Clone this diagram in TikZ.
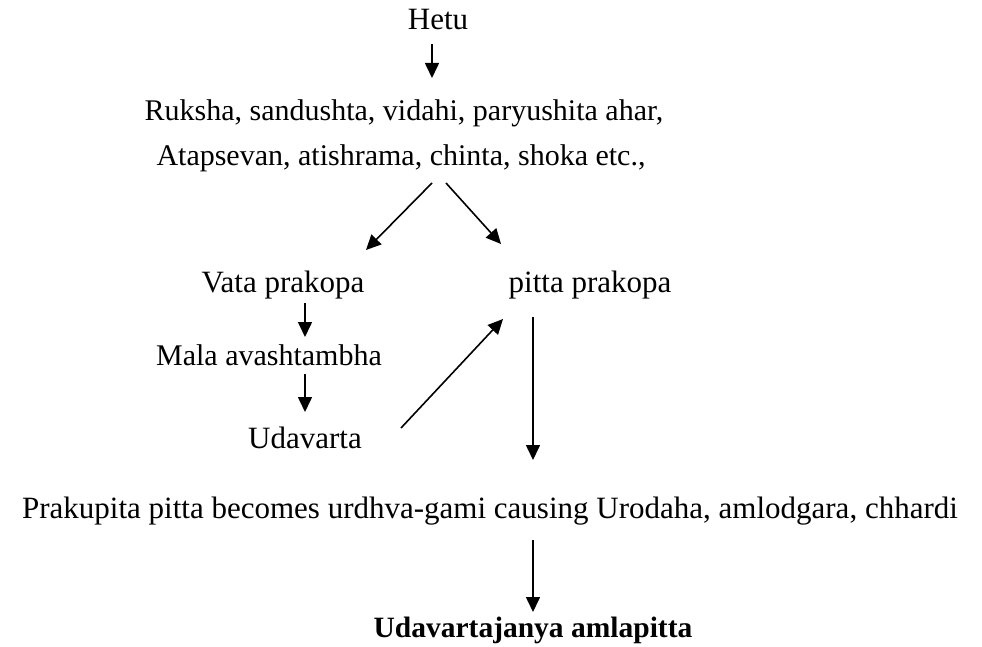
\documentclass[tikz,border=0pt]{standalone}
\usepackage{fontspec}
\setmainfont{Liberation Serif}
\usetikzlibrary{arrows.meta, positioning}

\begin{document}
\begin{tikzpicture}[
    x=1pt, y=-1pt,
    every node/.style={anchor=base, inner sep=0pt, font=\fontsize{31}{37}\selectfont},
    narrow/.style={font=\fontsize{30}{36}\selectfont},
    arr/.style={-{Triangle[length=15pt, width=14pt]}, line width=1.6pt}
]
    \useasboundingbox (0,0) rectangle (982,647);

    % Nodes
    \node (hetu) at (438,30) {Hetu};
    \node[narrow] (ruksha) at (404,121) {Ruksha, sandushta, vidahi, paryushita ahar,};
    \node[narrow] (atap) at (401,166) {Atapsevan, atishrama, chinta, shoka etc.,};
    \node (vata) at (283,292) {Vata prakopa};
    \node (pitta) at (590,292) {pitta prakopa};
    \node[narrow] (mala) at (269,365) {Mala avashtambha};
    \node (udav) at (305,448) {Udavarta};
    \node (praku) at (490,518) {Prakupita pitta becomes urdhva-gami causing Urodaha, amlodgara, chhardi};
    \node[font=\fontsize{29.5}{35}\selectfont\bfseries] (result) at (533,637) {Udavartajanya amlapitta};

    % Arrow ends
    \coordinate (hetuout) at (432,44);
    \coordinate (rukshain) at (432,78);
    \coordinate (atapl) at (432,183);
    \coordinate (vatain) at (366,250);
    \coordinate (atapr) at (446,183);
    \coordinate (pittain) at (501,244);
    \coordinate (vataout) at (305,303);
    \coordinate (malain) at (305,337);
    \coordinate (malaout) at (305,374);
    \coordinate (udavin) at (305,412);
    \coordinate (udavout) at (401,428);
    \coordinate (pittaback) at (503,319);
    \coordinate (pittaout) at (533,317);
    \coordinate (prakuin) at (533,460);
    \coordinate (prakuout) at (533,540);
    \coordinate (resultin) at (533,612);

    % Arrows
    \draw[arr] (hetuout) -- (rukshain);
    \draw[arr] (atapl) -- (vatain);
    \draw[arr] (atapr) -- (pittain);
    \draw[arr] (vataout) -- (malain);
    \draw[arr] (malaout) -- (udavin);
    \draw[arr] (udavout) -- (pittaback);
    \draw[arr] (pittaout) -- (prakuin);
    \draw[arr] (prakuout) -- (resultin);
\end{tikzpicture}
\end{document}
